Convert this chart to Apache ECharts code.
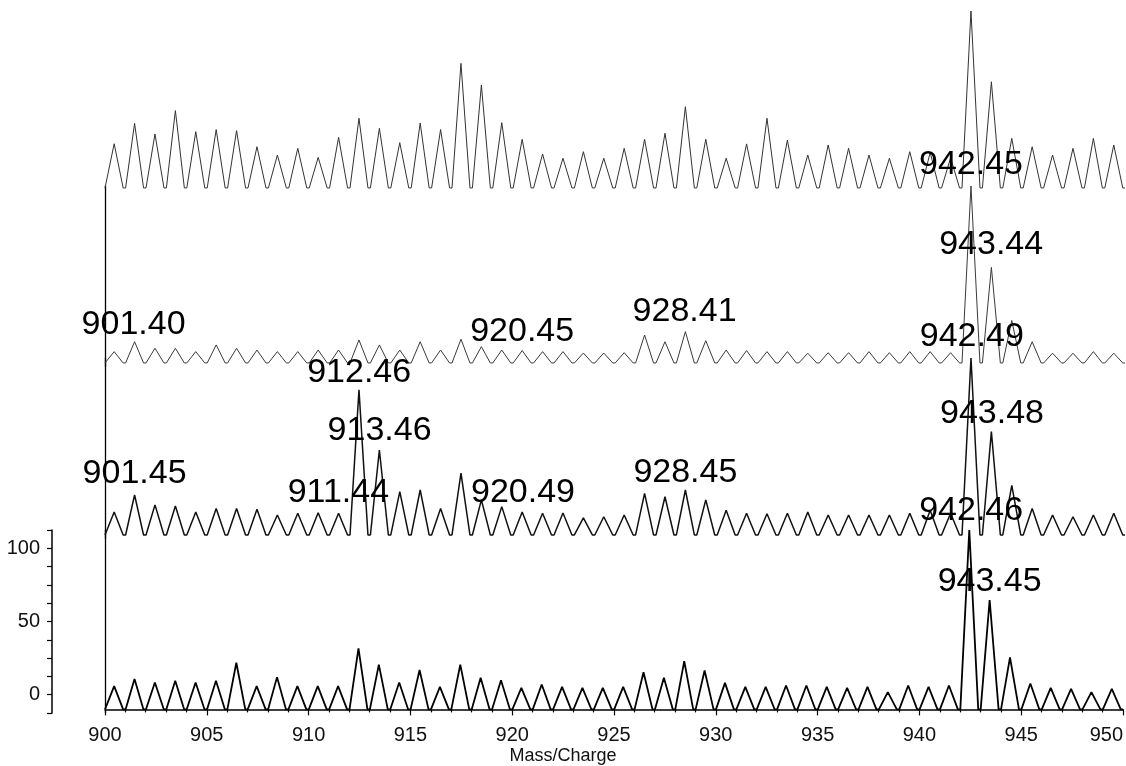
<!DOCTYPE html>
<html>
<head>
<meta charset="utf-8">
<script src="https://cdn.jsdelivr.net/npm/echarts@6/dist/echarts.min.js"></script>
<style>
  html, body { margin: 0; padding: 0; background: #fff; }
  #main { width: 1126px; height: 766px; }
</style>
</head>
<body>
<div id="main"></div>
<script>
// peak centroids (m/z) of the ~1 Da comb seen in every spectrum
var peakMz = [
  900.45, 901.45, 902.45, 903.45, 904.45, 905.45, 906.45, 907.45, 908.45, 909.45,
  910.45, 911.45, 912.45, 913.45, 914.45, 915.45, 916.45, 917.45, 918.45, 919.45,
  920.45, 921.45, 922.45, 923.45, 924.45, 925.45, 926.45, 927.45, 928.45, 929.45,
  930.45, 931.45, 932.45, 933.45, 934.45, 935.45, 936.45, 937.45, 938.45, 939.45,
  940.45, 941.45, 942.45, 943.45, 944.45, 945.45, 946.45, 947.45, 948.45, 949.45
];

// relative intensity (%) of each peak, top spectrum to bottom spectrum
var spec1 = [
  25, 36.5, 30.5, 43.7, 31.8, 33, 32.4, 23.3, 18.6, 22.4,
  17.3, 28.6, 39.4, 33.7, 25.6, 36.7, 33, 70.4, 58.2, 36.9,
  27.5, 19.2, 16.8, 20.5, 16.8, 22.4, 27.5, 30.9, 45.9, 27.5,
  16.8, 24.9, 39.4, 27, 18.6, 24.3, 22.4, 18.6, 16.8, 20.5,
  20, 17, 100, 60, 28, 23.3, 18.6, 22.4, 28, 24.3
];
var spec2 = [
  6.4, 12, 8.3, 8.3, 6.4, 10.2, 8.3, 7.3, 6.4, 6.4,
  7.3, 7.3, 13, 10.2, 7.3, 12, 7.3, 13.4, 9.2, 7.3,
  7, 6.4, 6.4, 5.6, 5.6, 5.8, 15.8, 12, 17.7, 12.6,
  7.3, 7, 6.4, 6.4, 5.5, 5.8, 5.8, 6.4, 5.8, 6.4,
  6.4, 5.8, 100, 54, 24, 12, 5.5, 5.5, 6.4, 5.5
];
var spec3 = [
  13, 22.6, 17, 16.4, 13, 15, 15, 14.5, 11.3, 12.3,
  12.6, 12.3, 82, 48, 24.5, 25.4, 15, 34.9, 19.8, 16,
  13, 12.3, 12.4, 9.6, 10.3, 11.3, 23.5, 21.6, 25.4, 19.8,
  14, 12.3, 12, 12.3, 13, 11.3, 11.3, 11.3, 11.3, 12.3,
  14, 12.3, 100, 58.4, 28, 15, 11.3, 10.3, 11.3, 12.3
];
var spec4 = [
  13, 17, 15, 16, 15, 16, 26, 13, 18, 13,
  13, 13, 34, 25, 15, 22, 12.6, 25, 17.6, 16.3,
  12, 13.9, 12.6, 12, 12, 12.6, 20.7, 17.6, 26.9, 21.7,
  14.8, 12.6, 12.6, 13.3, 13.3, 12.6, 12, 12.6, 9.6, 13.3,
  12.6, 13.3, 100, 61, 29, 14.4, 12, 11.5, 9.6, 11.5
];

// peak annotations: [text, m/z, height of label centre in %]
var labels1 = [["942.45", 942.45, 13]];
var labels2 = [
  ["943.44", 943.44, 66.7], ["901.40", 901.40, 21.5], ["920.45", 920.45, 17.5],
  ["928.41", 928.41, 28.8], ["942.49", 942.49, 14.7]
];
var labels3 = [
  ["912.46", 912.46, 92], ["913.46", 913.46, 58.8], ["943.48", 943.48, 68.4],
  ["901.45", 901.45, 34.5], ["911.44", 911.44, 23.7], ["920.49", 920.49, 23.7],
  ["928.45", 928.45, 35], ["942.46", 942.46, 13.6]
];
var labels4 = [["943.45", 943.45, 71]];

var xTicks = [900, 905, 910, 915, 920, 925, 930, 935, 940, 945, 950];
var yTicks = [0, 50, 100];

var halfWidth = 0.44;
var font = "Liberation Sans, Arial, sans-serif";

function profile(heights) {
  var pts = [[900, 0]];
  peakMz.forEach(function (m, i) {
    pts.push([m - halfWidth, 0], [m, heights[i]], [m + halfWidth, 0]);
  });
  pts.push([950, 0]);
  return pts;
}

function marks(list) {
  return {
    symbol: "circle",
    symbolSize: 1,
    itemStyle: { color: "rgba(0,0,0,0)" },
    label: {
      show: true,
      position: "inside",
      formatter: "{b}",
      fontSize: 34,
      fontFamily: font,
      color: "#000"
    },
    data: list.map(function (l) {
      return { name: l[0], coord: [l[1], l[2]] };
    })
  };
}

var grids = [
  { left: 105, right: 1, top: 11, height: 180.5 },
  { left: 105, right: 1, top: 186, height: 180.5 },
  { left: 105, right: 1, top: 358, height: 180.5 },
  { left: 105, right: 1, top: 530, height: 183.5 }
];

var xAxes = grids.map(function (g, i) {
  var bottom = i === 3;
  return {
    type: "value",
    gridIndex: i,
    min: 900,
    max: 950,
    interval: 5,
    show: bottom,
    axisLine: { show: bottom, lineStyle: { color: "#000", width: 1.5 } },
    axisTick: { show: bottom, length: 6, lineStyle: { color: "#000", width: 1.2 } },
    minorTick: { show: bottom, splitNumber: 5, length: 3, lineStyle: { color: "#000", width: 1.2 } },
    splitLine: { show: false },
    axisLabel: {
      show: bottom,
      margin: 12,
      fontSize: 20,
      fontFamily: font,
      color: "#111",
      alignMaxLabel: "right",
      formatter: function (v) { return xTicks.indexOf(v) >= 0 ? String(v) : ""; }
    },
    name: bottom ? "Mass/Charge" : "",
    nameLocation: "middle",
    nameGap: 34,
    nameTextStyle: { fontSize: 18, fontFamily: font, color: "#111", padding: [0, 102, 0, 0] }
  };
});

var yAxes = grids.map(function (g, i) {
  return {
    type: "value",
    gridIndex: i,
    min: -2,
    max: 100,
    axisLine: { show: i > 0, lineStyle: { color: "#000", width: 1.3 } },
    axisTick: { show: false },
    axisLabel: { show: false },
    splitLine: { show: false }
  };
});
// intensity scale shown beside the bottom spectrum
yAxes.push({
  type: "value",
  gridIndex: 3,
  position: "left",
  offset: 53,
  min: -12.5,
  max: 112.5,
  interval: 12.5,
  axisLine: { show: true, lineStyle: { color: "#000", width: 1.5 } },
  axisTick: { show: true, length: 5, lineStyle: { color: "#000", width: 1.2 } },
  splitLine: { show: false },
  axisLabel: {
    margin: 12,
    fontSize: 20,
    fontFamily: font,
    color: "#111",
    formatter: function (v) { return yTicks.indexOf(v) >= 0 ? String(v) : ""; }
  }
});

var specs = [spec1, spec2, spec3, spec4];
var labelSets = [labels1, labels2, labels3, labels4];
var lineColors = ["#333", "#3a3a3a", "#111", "#000"];
var lineWidths = [1, 1, 1.5, 1.8];

var series = specs.map(function (s, i) {
  return {
    type: "line",
    xAxisIndex: i,
    yAxisIndex: i,
    data: profile(s),
    symbol: "none",
    clip: false,
    animation: false,
    lineStyle: { color: lineColors[i], width: lineWidths[i] },
    markPoint: marks(labelSets[i])
  };
});

var chart = echarts.init(document.getElementById("main"));
chart.setOption({
  backgroundColor: "#fff",
  animation: false,
  grid: grids,
  xAxis: xAxes,
  yAxis: yAxes,
  series: series
});
</script>
</body>
</html>
